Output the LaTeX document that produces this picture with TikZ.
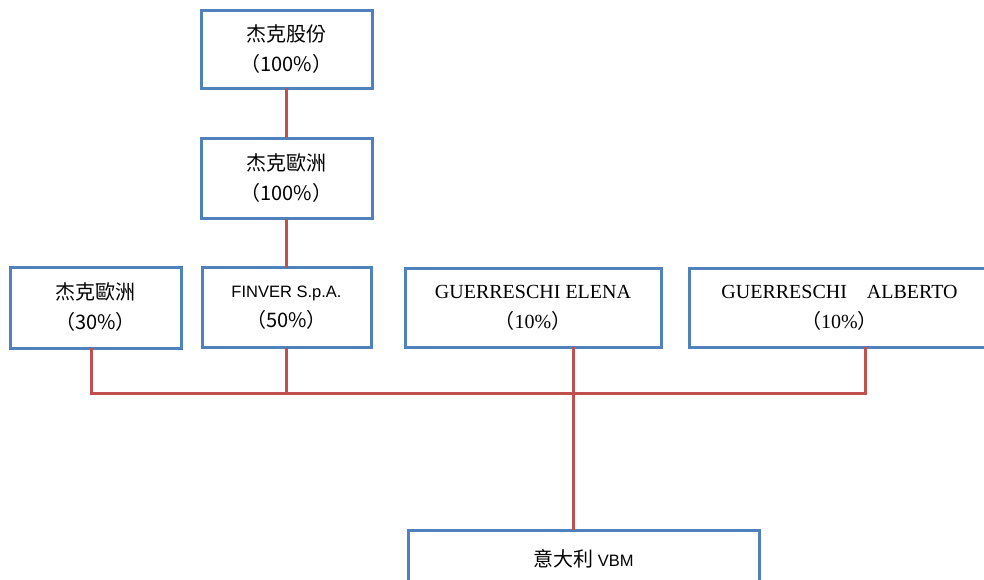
\documentclass[tikz,border=0pt]{standalone}
\usepackage{fontspec}
\setmainfont{Liberation Serif}
\newfontfamily\cjk{Noto Sans CJK TC}
\newfontfamily\latsans{Liberation Sans}
\usepackage{tikz}
\usetikzlibrary{positioning}
\definecolor{boxblue}{HTML}{4F81BD}
\definecolor{linkred}{HTML}{C0504D}
\tikzstyle{holder} = [draw=boxblue, line width=3pt, fill=white, inner sep=0pt, outer sep=0pt, align=center, font=\fontsize{20}{30}\selectfont]
\tikzstyle{cjkholder} = [holder, font=\cjk\fontsize{20}{30}\selectfont]
\tikzstyle{link} = [draw=linkred, line width=3pt]
\newcommand{\finname}[1]{{\latsans\fontsize{16.5}{30}\selectfont #1}}

\begin{document}
\begin{tikzpicture}[
    x=1pt, y=1pt,
    text centered
    ]
    \useasboundingbox (0,0) rectangle (984,-580);
    % owners
    \node[cjkholder, minimum width=171pt, minimum height=78pt] (jackholding) at (286.5,-49.5) {杰克股份\\（100\%）};
    \node[cjkholder, minimum width=171pt, minimum height=80pt] (jackeurope) [below=50pt of jackholding] {杰克歐洲\\（100\%）};
    \node[cjkholder, minimum width=169pt, minimum height=80pt] (finver) [below=49pt of jackeurope] {\finname{FINVER S.p.A.}\\（50\%）};
    \node[cjkholder, minimum width=171pt, minimum height=81pt] (europe30) [left=21pt of finver] {杰克歐洲\\（30\%）};
    \node[holder, minimum width=256pt, minimum height=79pt] (elena) [right=34pt of finver] {GUERRESCHI ELENA\\{\cjk （}10\%{\cjk ）}};
    \node[holder, minimum width=301pt, minimum height=79pt] (alberto) [right=28pt of elena] {GUERRESCHI\hspace{20pt}ALBERTO\\{\cjk （}10\%{\cjk ）}};
    % company
    \node[cjkholder, minimum width=351pt, minimum height=58pt] (vbm) at (583.5,-559) {意大利 \finname{VBM}};
    \coordinate (bus) at (573,-393);
    \draw[link] (jackholding) -- (jackeurope);
    \draw[link] (jackeurope) -- (finver);
    \draw[link] ([xshift=-4.5pt]europe30.south) |- (bus) -| ([xshift=26pt]alberto.south);
    \draw[link] (finver.south) -- (finver.south |- bus);
    \draw[link] ([xshift=40pt]elena.south) -- ([xshift=40pt]elena.south |- vbm.north);
\end{tikzpicture}
\end{document}
